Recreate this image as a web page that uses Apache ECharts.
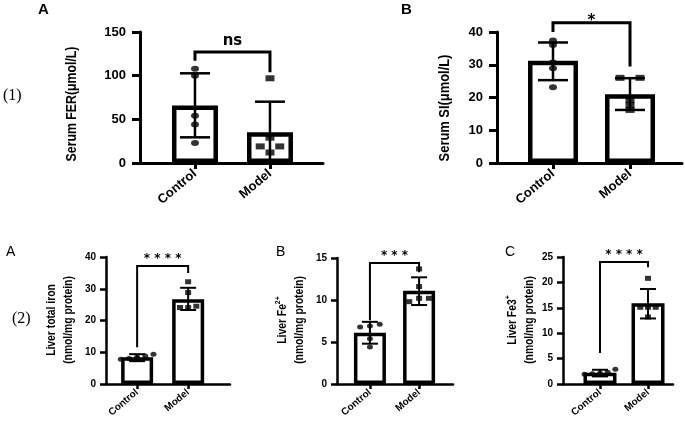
<!DOCTYPE html>
<html>
<head>
<meta charset="utf-8">
<script src="https://cdn.jsdelivr.net/npm/echarts@6/dist/echarts.min.js"></script>
<style>
html, body { margin: 0; padding: 0; background: #fff; }
#main { width: 685px; height: 423px; }
</style>
</head>
<body>
<div id="main"></div>
<script>
var groups = ['Control', 'Model'];

// (1)A serum FER
var ferMean = [65.8, 35.2];
var ferLo = [29.4, 0];
var ferHi = [102.7, 70.2];
var ferCtrl = [108, 100, 54, 44, 23];
var ferModel = [97, 29, 19, 19, 12];
var ferBracket = [117, 127, 104]; // left leg end, top, right leg end

// (1)B serum SI
var siMean = [31.2, 21];
var siLo = [25.3, 16.2];
var siHi = [36.8, 25.9];
var siCtrl = [37.4, 36, 30.7, 28.9, 23.1];
var siModel = [26, 26, 19.2, 17.7, 16.2];
var siBracket = [40, 42.8, 29.5];

// (2)A liver total iron
var tiMean = [8.4, 26.7];
var tiLo = [7.2, 23.3];
var tiHi = [9.4, 30.3];
var tiCtrl = [8.5, 9.4, 8, 7.8, 8.8];
var tiModel = [32.2, 28.8, 24.1, 24.1, 24.5];
var tiBracket = [11.6, 37.2, 35];

// (2)B liver Fe2+
var fe2Mean = [6.1, 11.1];
var fe2Lo = [4.8, 9.4];
var fe2Hi = [7.4, 12.7];
var fe2Ctrl = [6.9, 7.1, 6.8, 5.4, 4.4];
var fe2Model = [13.7, 11.6, 9.8, 10.2, 10.2];
var fe2Bracket = [7.6, 14.4, 13.3];

// (2)C liver Fe3+
var fe3Mean = [2.2, 15.9];
var fe3Lo = [1.5, 12.9];
var fe3Hi = [2.8, 18.7];
var fe3Ctrl = [2.9, 2.0, 2.1, 1.9, 2.3];
var fe3Model = [20.8, 15.1, 15.1, 15.1, 13.2];
var fe3Bracket = [6.1, 24, 23];

var sans = '"Liberation Sans", Arial, sans-serif';

// spread points that sit on (nearly) the same value
function dodge(vals, xi, thr, step) {
    var order = vals.map(function (v, i) { return i; })
        .sort(function (a, b) { return vals[a] - vals[b]; });
    var out = [], grp = [];
    function flush() {
        grp.forEach(function (k, j) {
            out.push([xi + (j - (grp.length - 1) / 2) * step, vals[k]]);
        });
        grp = [];
    }
    order.forEach(function (k) {
        if (grp.length && vals[k] - vals[grp[grp.length - 1]] > thr) flush();
        grp.push(k);
    });
    flush();
    return out;
}

// off = gap (in group widths) between y axis and the Control bar, span = full x range
var panels = [
    {grid: {left: 140, top: 32, width: 183, height: 131}, off: 0.733, span: 2.44, yMax: 150, yStep: 50,
        mean: ferMean, lo: ferLo, hi: ferHi, pts: [ferCtrl, ferModel], br: ferBracket, sig: 'ns',
        name: 'Serum FER(μmol/L)', nameAt: [72, 104], nameScale: 0.82, barW: 46, step: 0.26, big: true},
    {grid: {left: 497, top: 32, width: 185, height: 131}, off: 0.727, span: 2.402, yMax: 40, yStep: 10,
        mean: siMean, lo: siLo, hi: siHi, pts: [siCtrl, siModel], br: siBracket, sig: '*',
        name: 'Serum SI(μmol/L)', nameAt: [445, 108], nameScale: 0.86, barW: 50, step: 0.26, big: true},
    {grid: {left: 106, top: 257, width: 124, height: 127}, off: 0.61, span: 2.43, yMax: 40, yStep: 10,
        mean: tiMean, lo: tiLo, hi: tiHi, pts: [tiCtrl, tiModel], br: tiBracket, sig: '* * * *',
        name: '{a|Liver total iron}\n{a|(nmol/mg protein)}', nameAt: [60, 320], nameScale: 0.86, barW: 32, step: 0.16},
    {grid: {left: 337, top: 258, width: 116, height: 126}, off: 0.67, span: 2.36, yMax: 15, yStep: 5,
        mean: fe2Mean, lo: fe2Lo, hi: fe2Hi, pts: [fe2Ctrl, fe2Model], br: fe2Bracket, sig: '* * *',
        name: '{a|Liver Fe}{sup|2+}\n{a|(nmol/mg protein)}', nameAt: [291, 320], nameScale: 0.86, barW: 32, step: 0.2},
    {grid: {left: 563, top: 257, width: 110, height: 127}, off: 0.77, span: 2.29, yMax: 25, yStep: 5,
        mean: fe3Mean, lo: fe3Lo, hi: fe3Hi, pts: [fe3Ctrl, fe3Model], br: fe3Bracket, sig: '* * * *',
        name: '{a|Liver Fe3}{sup|+}\n{a|(nmol/mg protein)}', nameAt: [521, 320], nameScale: 0.86, barW: 33, step: 0.16}
];

var option = {
    backgroundColor: '#fff',
    animation: false,
    grid: [], xAxis: [], yAxis: [], series: [],
    graphic: [
        {type: 'text', left: 38, top: 2, style: {text: 'A', font: 'bold 15px ' + sans, fill: '#000'}},
        {type: 'text', left: 401, top: 2, style: {text: 'B', font: 'bold 15px ' + sans, fill: '#000'}},
        {type: 'text', left: 3, top: 88, style: {text: '(1)', font: '16px "Liberation Serif", serif', fill: '#000'}},
        {type: 'text', left: 6, top: 245, style: {text: 'A', font: '14px ' + sans, fill: '#000'}},
        {type: 'text', left: 276, top: 245, style: {text: 'B', font: '14px ' + sans, fill: '#000'}},
        {type: 'text', left: 505, top: 245, style: {text: 'C', font: '14px ' + sans, fill: '#000'}},
        {type: 'text', left: 12, top: 311, style: {text: '(2)', font: '16px "Liberation Serif", serif', fill: '#000'}}
    ]
};

panels.forEach(function (p, i) {
    var big = !!p.big;
    var lw = big ? 3 : 2.5;
    var errW = big ? 2.5 : 2;
    var cap = big ? 30 : 16;
    var fs = big ? 13 : 10;
    var pos = [p.off, p.off + 1];

    // rotated y title, squeezed along its length like the source
    option.graphic.push({
        type: 'text', x: p.nameAt[0], y: p.nameAt[1], rotation: Math.PI / 2, scaleX: p.nameScale,
        style: {
            text: p.name, align: 'center', verticalAlign: 'middle', fill: '#000',
            font: 'bold ' + (big ? 15 : 12) + 'px ' + sans, lineHeight: 17,
            rich: {
                a: {fontFamily: sans, fontWeight: 'bold', fontSize: 12, lineHeight: 17, fill: '#000'},
                sup: {fontFamily: sans, fontWeight: 'bold', fontSize: 8, lineHeight: 17, verticalAlign: 'top', fill: '#000'}
            }
        }
    });

    option.grid.push(p.grid);
    option.xAxis.push({
        gridIndex: i, type: 'value', min: 0, max: p.span,
        axisLine: {show: true, lineStyle: {color: '#000', width: lw}},
        axisTick: {show: true, customValues: pos, length: big ? 6 : 5, lineStyle: {color: '#000', width: lw}},
        axisLabel: {
            customValues: pos, rotate: 40, margin: big ? 9 : 7, color: '#000',
            fontFamily: sans, fontWeight: 'bold', fontSize: fs,
            formatter: function (v) { return groups[Math.round(v - p.off)]; }
        },
        splitLine: {show: false}
    });
    option.yAxis.push({
        gridIndex: i, type: 'value', min: 0, max: p.yMax, interval: p.yStep,
        axisLine: {show: true, lineStyle: {color: '#000', width: lw}},
        axisTick: {show: true, length: big ? 8 : 6, lineStyle: {color: '#000', width: lw}},
        axisLabel: {color: '#000', fontFamily: sans, fontWeight: 'bold', fontSize: fs, margin: big ? 14 : 10},
        splitLine: {show: false}
    });

    // bars
    option.series.push({
        type: 'bar', xAxisIndex: i, yAxisIndex: i, barWidth: p.barW, z: 2,
        itemStyle: {color: '#fff', borderColor: '#000', borderWidth: big ? 4.5 : 3.5},
        data: p.mean.map(function (m, k) { return [pos[k], m]; })
    });

    // SD error bars
    option.series.push({
        type: 'custom', xAxisIndex: i, yAxisIndex: i, z: 3,
        encode: {x: 0, y: [1, 2]},
        data: p.lo.map(function (l, k) { return [pos[k], l, p.hi[k]]; }),
        renderItem: function (params, api) {
            var lo = api.coord([api.value(0), api.value(1)]);
            var hi = api.coord([api.value(0), api.value(2)]);
            var st = {stroke: '#000', lineWidth: errW};
            return {type: 'group', children: [
                {type: 'line', shape: {x1: lo[0], y1: lo[1], x2: hi[0], y2: hi[1]}, style: st},
                {type: 'line', shape: {x1: hi[0] - cap / 2, y1: hi[1], x2: hi[0] + cap / 2, y2: hi[1]}, style: st},
                {type: 'line', shape: {x1: lo[0] - cap / 2, y1: lo[1], x2: lo[0] + cap / 2, y2: lo[1]}, style: st}
            ]};
        }
    });

    // individual points
    var thr = p.yMax * 0.03;
    option.series.push({
        type: 'scatter', xAxisIndex: i, yAxisIndex: i, z: 4,
        symbol: 'circle', symbolSize: big ? [8, 6] : [6, 5],
        itemStyle: {color: '#000'},
        data: dodge(p.pts[0], pos[0], thr, p.step)
    });
    option.series.push({
        type: 'scatter', xAxisIndex: i, yAxisIndex: i, z: 4,
        symbol: 'rect', symbolSize: big ? [9, 6] : [6, 5],
        itemStyle: {color: '#000'},
        data: dodge(p.pts[1], pos[1], thr, p.step)
    });

    // significance bracket
    option.series.push({
        type: 'custom', xAxisIndex: i, yAxisIndex: i, z: 5, clip: false,
        data: [[pos[0], pos[1], p.br[0], p.br[1], p.br[2]]],
        renderItem: function (params, api) {
            var a = api.coord([api.value(0), api.value(2)]);
            var b = api.coord([api.value(0), api.value(3)]);
            var c = api.coord([api.value(1), api.value(3)]);
            var d = api.coord([api.value(1), api.value(4)]);
            var single = p.sig === '*';
            return {type: 'group', children: [
                {type: 'polyline', shape: {points: [a, b, c, d]},
                    style: {stroke: '#000', lineWidth: big ? 3 : 2, fill: null}},
                {type: 'text', x: (b[0] + c[0]) / 2, y: b[1] + (single ? 6 : (big ? -3 : -1)),
                    style: {text: p.sig, align: 'center', verticalAlign: 'bottom', fill: '#000',
                        font: (big ? 'bold 15px ' : 'bold 12px ') + '"DejaVu Sans", sans-serif'}}
            ]};
        }
    });
});

var chart = echarts.init(document.getElementById('main'));
chart.setOption(option);
window.onresize = chart.resize;
</script>
</body>
</html>
